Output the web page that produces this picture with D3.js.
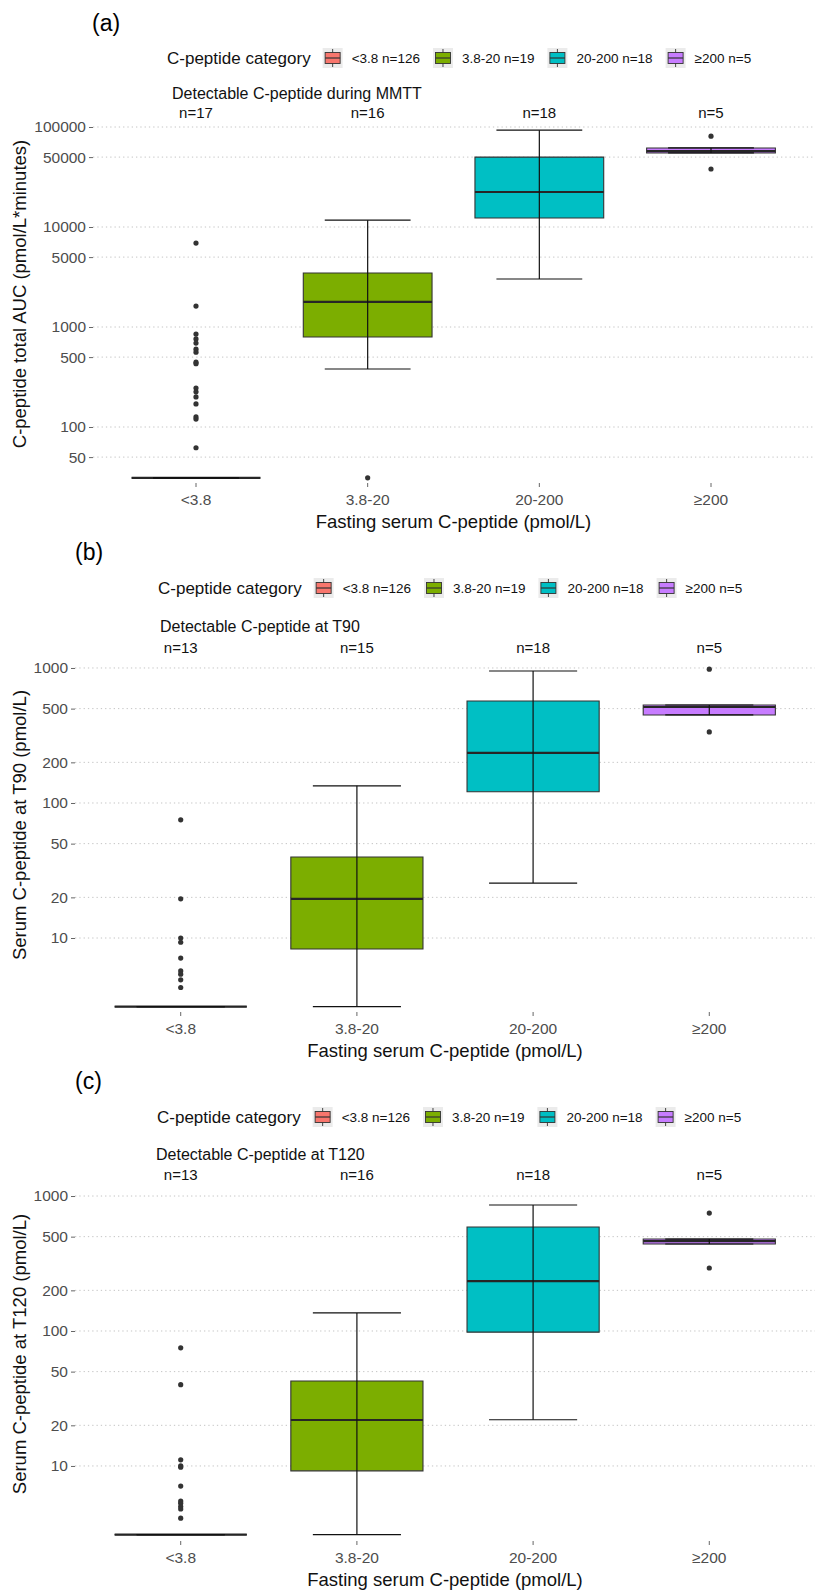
<!DOCTYPE html>
<html>
<head>
<meta charset="utf-8">
<script src="https://cdn.jsdelivr.net/npm/d3@7"></script>
<style>
  body { margin: 0; background: #fff; }
  text { font-family: "Liberation Sans", Arial, Helvetica, sans-serif; }
</style>
</head>
<body>
<svg id="chart" width="821" height="1592"></svg>
<script>
// categories & legend
var categories = ['<3.8', '3.8-20', '20-200', '≥200'];
var legendLabels = ['<3.8 n=126', '3.8-20 n=19', '20-200 n=18', '≥200 n=5'];
var colors = ['#F8766D', '#7CAE00', '#00BFC4', '#C77CFF'];

// (a) total AUC during MMTT
var aCounts = ['n=17', 'n=16', 'n=18', 'n=5'];
var aLow  = [31, 380, 3020, 55000];
var aQ1   = [31, 795, 12300, 55000];
var aMed  = [31, 1780, 22400, 57500];
var aQ3   = [31, 3470, 50000, 61700];
var aHigh = [31, 11700, 93000, 61700];
var aOutliers = [
  [6900, 1620, 850, 760, 690, 600, 560, 445, 430, 245, 225, 200, 170, 126, 120, 62],
  [31],
  [],
  [81000, 38000]
];
var aTicks = [50, 100, 500, 1000, 5000, 10000, 50000, 100000];

// (b) C-peptide at T90
var bCounts = ['n=13', 'n=15', 'n=18', 'n=5'];
var bLow  = [3.1, 3.1, 25.5, 449];
var bQ1   = [3.1, 8.3, 121, 449];
var bMed  = [3.1, 19.5, 235, 514];
var bQ3   = [3.1, 39.8, 570, 532];
var bHigh = [3.1, 134, 950, 532];
var bOutliers = [
  [75, 19.5, 10, 9.3, 7.1, 5.7, 5.4, 4.9, 4.3],
  [],
  [],
  [980, 336]
];

// (c) C-peptide at T120
var cCounts = ['n=13', 'n=16', 'n=18', 'n=5'];
var cLow  = [3.1, 3.1, 22, 441];
var cQ1   = [3.1, 9.2, 98, 441];
var cMed  = [3.1, 21.9, 234, 464];
var cQ3   = [3.1, 42.6, 590, 480];
var cHigh = [3.1, 136, 858, 480];
var cOutliers = [
  [75, 40, 11.1, 10, 9.8, 7.1, 5.5, 5.3, 5.0, 4.8, 4.1],
  [],
  [],
  [748, 293]
];
var bcTicks = [10, 20, 50, 100, 200, 500, 1000];

var xTitle = 'Fasting serum C-peptide (pmol/L)';
var legendTitle = 'C-peptide category';

var panels = [
  { tag: '(a)', tagX: 92, tagY: 23,
    subtitle: 'Detectable C-peptide during MMTT', subX: 172, subY: 93,
    legendX: 167, legendY: 58,
    yTitle: 'C-peptide total AUC (pmol/L*minutes)',
    left: 93, right: 814, top: 105, bottom: 483,
    domain: [Math.pow(10, 1.44), Math.pow(10, 5.22)],
    ticks: aTicks, counts: aCounts, nY: 113,
    low: aLow, q1: aQ1, med: aMed, q3: aQ3, high: aHigh, outliers: aOutliers },
  { tag: '(b)', tagX: 75, tagY: 552,
    subtitle: 'Detectable C-peptide at T90', subX: 160, subY: 626,
    legendX: 158, legendY: 588,
    yTitle: 'Serum C-peptide at T90 (pmol/L)',
    left: 75, right: 815, top: 638, bottom: 1012,
    domain: [Math.pow(10, 0.452), Math.pow(10, 3.222)],
    ticks: bcTicks, counts: bCounts, nY: 648,
    low: bLow, q1: bQ1, med: bMed, q3: bQ3, high: bHigh, outliers: bOutliers },
  { tag: '(c)', tagX: 75, tagY: 1081,
    subtitle: 'Detectable C-peptide at T120', subX: 156, subY: 1154,
    legendX: 157, legendY: 1117,
    yTitle: 'Serum C-peptide at T120 (pmol/L)',
    left: 75, right: 815, top: 1167, bottom: 1541,
    domain: [Math.pow(10, 0.444), Math.pow(10, 3.215)],
    ticks: bcTicks, counts: cCounts, nY: 1175,
    low: cLow, q1: cQ1, med: cMed, q3: cQ3, high: cHigh, outliers: cOutliers }
];

var svg = d3.select('#chart');

panels.forEach(function(p){
  var g = svg.append('g');

  var x = d3.scaleBand().domain(categories)
    .range([p.left, p.right]).paddingInner(0).paddingOuter(0.1);
  var step = x.step();
  var cx = function(c){ return x(c) + x.bandwidth() / 2; };
  var y = d3.scaleLog().domain(p.domain).range([p.bottom, p.top]);

  // dotted grid
  g.selectAll('line.grid').data(p.ticks).enter().append('line')
    .attr('class', 'grid')
    .attr('x1', p.left).attr('x2', p.right)
    .attr('y1', function(d){ return y(d); })
    .attr('y2', function(d){ return y(d); })
    .attr('stroke', '#c4c4c4')
    .attr('stroke-width', 1)
    .attr('stroke-dasharray', '1.3,3');

  // y axis
  var ya = g.append('g')
    .attr('transform', 'translate(' + p.left + ',0)')
    .call(d3.axisLeft(y).tickValues(p.ticks).tickFormat(d3.format('d')).tickSize(4).tickPadding(3));
  ya.select('.domain').remove();
  ya.selectAll('.tick line').attr('stroke', '#666');
  ya.selectAll('.tick text').attr('fill', '#4d4d4d').style('font-size', '15.5px');

  // x axis
  var xa = g.append('g')
    .attr('transform', 'translate(0,' + p.bottom + ')')
    .call(d3.axisBottom(x).tickSize(4).tickPadding(6.5));
  xa.select('.domain').remove();
  xa.selectAll('.tick line').attr('stroke', '#666');
  xa.selectAll('.tick text').attr('fill', '#4d4d4d').style('font-size', '15.5px');

  // boxplots
  var stats = categories.map(function(c, i){
    return { cat: c, color: colors[i], low: p.low[i], q1: p.q1[i], med: p.med[i],
             q3: p.q3[i], high: p.high[i], out: p.outliers[i], n: p.counts[i] };
  });
  var bw = step * 0.75, cw = step * 0.5;

  var box = g.selectAll('g.box').data(stats).enter().append('g').attr('class', 'box');

  box.append('path')
    .attr('d', function(d){
      var x0 = cx(d.cat) - bw / 2, x1 = cx(d.cat) + bw / 2;
      return 'M' + x0 + ',' + y(d.q3) + 'H' + x1 + 'V' + y(d.q1) + 'H' + x0 + 'Z';
    })
    .attr('fill', function(d){ return d.color; })
    .attr('stroke', '#333')
    .attr('stroke-width', 1.1);

  box.append('line')
    .attr('x1', function(d){ return cx(d.cat) - bw / 2; })
    .attr('x2', function(d){ return cx(d.cat) + bw / 2; })
    .attr('y1', function(d){ return y(d.med); })
    .attr('y2', function(d){ return y(d.med); })
    .attr('stroke', '#262626')
    .attr('stroke-width', 2.2);

  // error bar whiskers drawn over the box
  box.append('line')
    .attr('x1', function(d){ return cx(d.cat); })
    .attr('x2', function(d){ return cx(d.cat); })
    .attr('y1', function(d){ return y(d.low); })
    .attr('y2', function(d){ return y(d.high); })
    .attr('stroke', '#111')
    .attr('stroke-width', 1.2);

  ['low', 'high'].forEach(function(k){
    box.append('line')
      .attr('x1', function(d){ return cx(d.cat) - cw / 2; })
      .attr('x2', function(d){ return cx(d.cat) + cw / 2; })
      .attr('y1', function(d){ return y(d[k]); })
      .attr('y2', function(d){ return y(d[k]); })
      .attr('stroke', '#111')
      .attr('stroke-width', 1.2);
  });

  box.selectAll('circle').data(function(d){
      return d.out.map(function(v){ return { cat: d.cat, v: v }; });
    }).enter().append('circle')
    .attr('cx', function(d){ return cx(d.cat); })
    .attr('cy', function(d){ return y(d.v); })
    .attr('r', 2.6)
    .attr('fill', '#333');

  // n labels
  g.selectAll('text.n').data(stats).enter().append('text')
    .attr('class', 'n')
    .attr('x', function(d){ return cx(d.cat); })
    .attr('y', p.nY)
    .attr('dy', '0.35em')
    .attr('text-anchor', 'middle')
    .style('font-size', '15px')
    .attr('fill', '#111')
    .text(function(d){ return d.n; });

  // titles
  g.append('text').attr('x', p.tagX).attr('y', p.tagY).attr('dy', '0.35em')
    .style('font-size', '23px').attr('fill', '#000').text(p.tag);

  g.append('text').attr('x', p.subX).attr('y', p.subY).attr('dy', '0.35em')
    .style('font-size', '16px').attr('fill', '#111').text(p.subtitle);

  g.append('text')
    .attr('transform', 'translate(20,' + ((p.top + p.bottom) / 2) + ') rotate(-90)')
    .attr('dy', '0.35em')
    .attr('text-anchor', 'middle')
    .style('font-size', '18.5px').attr('fill', '#111')
    .text(p.yTitle);

  g.append('text')
    .attr('x', (p.left + p.right) / 2).attr('y', p.bottom + 39).attr('dy', '0.35em')
    .attr('text-anchor', 'middle')
    .style('font-size', '18.5px').attr('fill', '#111')
    .text(xTitle);

  // legend
  var lg = g.append('g');
  var lx = p.legendX, ly = p.legendY;
  var lt = lg.append('text').attr('x', lx).attr('y', ly).attr('dy', '0.35em')
    .style('font-size', '17px').attr('fill', '#111').text(legendTitle);
  lx += lt.node().getComputedTextLength() + 12;

  legendLabels.forEach(function(lab, i){
    var k = lg.append('g').attr('transform', 'translate(' + lx + ',' + (ly - 10) + ')');
    k.append('rect').attr('width', 20).attr('height', 20).attr('fill', '#ebebeb');
    k.append('line').attr('x1', 10).attr('x2', 10).attr('y1', 1).attr('y2', 19)
      .attr('stroke', '#333').attr('stroke-width', 0.9);
    k.append('rect').attr('x', 2.5).attr('y', 4.5).attr('width', 15).attr('height', 11)
      .attr('fill', colors[i]).attr('stroke', '#333').attr('stroke-width', 0.9);
    k.append('line').attr('x1', 2.5).attr('x2', 17.5).attr('y1', 10).attr('y2', 10)
      .attr('stroke', '#333').attr('stroke-width', 1.2);
    var t = lg.append('text').attr('x', lx + 29).attr('y', ly).attr('dy', '0.35em')
      .style('font-size', '13.5px').attr('fill', '#111').text(lab);
    lx += 29 + t.node().getComputedTextLength() + 13;
  });
});
</script>
</body>
</html>
